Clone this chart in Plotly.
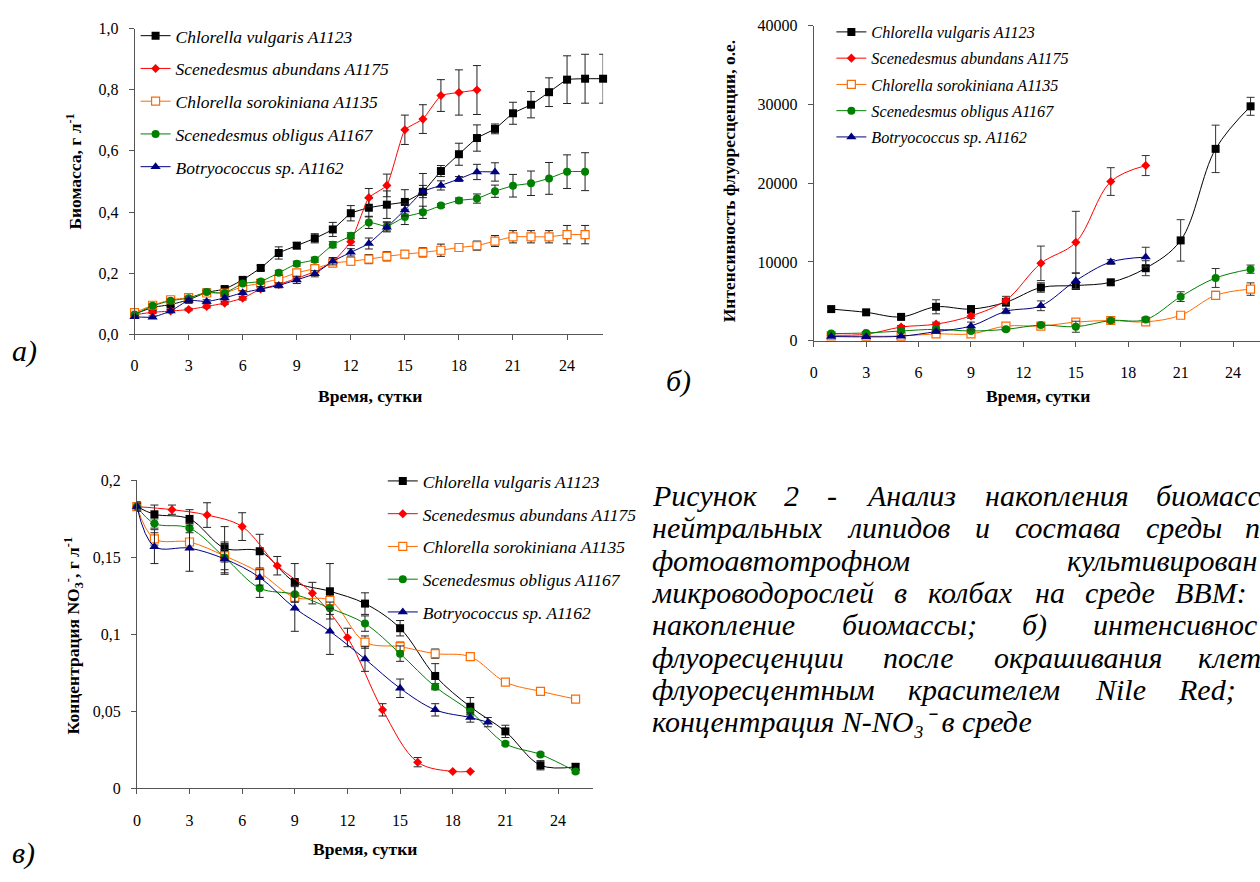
import plotly.graph_objects as go

# ---------------- data ----------------
SERIES = ["Chlorella vulgaris A1123", "Scenedesmus abundans A1175",
          "Chlorella sorokiniana A1135", "Scenedesmus obligus A1167",
          "Botryococcus sp. A1162"]

# (a) biomass, g/L
a_days_cv = list(range(0, 27))
a_cv = [0.066, 0.088, 0.097, 0.113, 0.137, 0.148, 0.178, 0.217, 0.266, 0.290, 0.314, 0.343, 0.396,
        0.414, 0.424, 0.433, 0.466, 0.534, 0.589, 0.642, 0.672, 0.723, 0.751, 0.792, 0.833, 0.836, 0.836]
a_cv_err = [0.005, 0.006, 0.006, 0.006, 0.006, 0.008, 0.008, 0.008, 0.02, 0.01, 0.015, 0.023, 0.025,
            0.03, 0.045, 0.04, 0.06, 0.018, 0.036, 0.043, 0.016, 0.036, 0.043, 0.047, 0.078, 0.08, 0.08]
a_days_sa = list(range(0, 20))
a_sa = [0.064, 0.072, 0.076, 0.081, 0.091, 0.102, 0.118, 0.148, 0.163, 0.183, 0.205, 0.237, 0.303,
        0.447, 0.487, 0.669, 0.704, 0.781, 0.791, 0.799]
a_sa_err = [0.004, 0.004, 0.004, 0.004, 0.005, 0.005, 0.006, 0.006, 0.008, 0.01, 0.01, 0.012, 0.012,
            0.03, 0.037, 0.048, 0.047, 0.052, 0.074, 0.08]
a_days_cs = list(range(0, 26))
a_cs = [0.071, 0.095, 0.113, 0.120, 0.135, 0.135, 0.156, 0.167, 0.181, 0.201, 0.215, 0.233, 0.239,
        0.246, 0.255, 0.262, 0.268, 0.275, 0.284, 0.290, 0.305, 0.319, 0.319, 0.319, 0.326, 0.326]
a_cs_err = [0.004, 0.004, 0.004, 0.004, 0.004, 0.004, 0.004, 0.004, 0.008, 0.01, 0.01, 0.012, 0.012,
            0.015, 0.015, 0.012, 0.015, 0.02, 0.01, 0.015, 0.018, 0.02, 0.02, 0.02, 0.03, 0.03]
a_days_so = list(range(0, 26))
a_so = [0.065, 0.093, 0.110, 0.118, 0.138, 0.135, 0.166, 0.173, 0.201, 0.231, 0.244, 0.293, 0.322,
        0.366, 0.353, 0.384, 0.399, 0.421, 0.438, 0.444, 0.468, 0.486, 0.494, 0.510, 0.532, 0.532]
a_so_err = [0.004, 0.005, 0.005, 0.005, 0.005, 0.006, 0.006, 0.006, 0.008, 0.008, 0.008, 0.01, 0.01,
            0.02, 0.015, 0.025, 0.02, 0.006, 0.008, 0.015, 0.02, 0.037, 0.04, 0.052, 0.055, 0.062]
a_days_bo = list(range(0, 21))
a_bo = [0.057, 0.056, 0.076, 0.111, 0.107, 0.119, 0.136, 0.148, 0.160, 0.178, 0.198, 0.239, 0.268,
        0.297, 0.350, 0.407, 0.467, 0.487, 0.508, 0.531, 0.531]
a_bo_err = [0.004, 0.004, 0.005, 0.006, 0.006, 0.006, 0.006, 0.008, 0.008, 0.012, 0.01, 0.012, 0.012,
            0.018, 0.015, 0.02, 0.02, 0.015, 0.008, 0.025, 0.03]

# (b) fluorescence intensity, a.u.
b_days_long = [1, 3, 5, 7, 9, 11, 13, 15, 17, 19, 21, 23, 25]
b_days_short = [1, 3, 5, 7, 9, 11, 13, 15, 17, 19]
b_cv = [4020, 3610, 3030, 4310, 4020, 4890, 6760, 7010, 7420, 9210, 12740, 24360, 29760]
b_cv_err = [250, 250, 250, 890, 400, 500, 600, 500, 300, 950, 2630, 3010, 1140]
b_sa = [700, 830, 1740, 2110, 3150, 5140, 9830, 12490, 20210, 22240]
b_sa_err = [150, 150, 200, 250, 300, 500, 2190, 3940, 1760, 1270]
b_cs = [620, 580, 600, 870, 870, 1870, 1870, 2370, 2570, 2400, 3240, 5770, 6560]
b_cs_err = [100, 100, 100, 150, 150, 200, 200, 200, 200, 300, 200, 500, 790]
b_so = [910, 990, 1240, 1450, 1240, 1450, 1990, 1780, 2570, 2690, 5600, 7970, 9090]
b_so_err = [100, 150, 150, 200, 200, 200, 200, 700, 200, 300, 620, 1200, 520]
b_bo = [540, 500, 580, 1160, 1870, 3740, 4440, 7630, 10000, 10620]
b_bo_err = [100, 100, 100, 200, 500, 300, 620, 1000, 300, 1250]

# (c) NO3 concentration, g/L
c_days_odd = [0, 1, 3, 5, 7, 9, 11, 13, 15, 17, 19, 21, 23, 25]
c_days_sa = [0, 2, 4, 6, 8, 10, 12, 14, 16, 18, 19]
c_days_bo = [0, 1, 3, 5, 7, 9, 11, 13, 15, 17, 19, 20]
c_cv = [0.183, 0.178, 0.175, 0.156, 0.154, 0.134, 0.128, 0.120, 0.104, 0.073, 0.053, 0.037, 0.015, 0.014]
c_cv_err = [0.003, 0.006, 0.006, 0.014, 0.011, 0.012, 0.018, 0.007, 0.005, 0.008, 0.006, 0.004, 0.003, 0.002]
c_sa = [0.183, 0.181, 0.1775, 0.170, 0.1446, 0.1268, 0.098, 0.051, 0.017, 0.011, 0.011]
c_sa_err = [0.002, 0.003, 0.008, 0.009, 0.006, 0.007, 0.006, 0.004, 0.003, 0.0, 0.0]
c_cs = [0.183, 0.162, 0.160, 0.151, 0.140, 0.124, 0.122, 0.095, 0.092, 0.0875, 0.0855, 0.069, 0.063, 0.058]
c_cs_err = [0.002, 0.004, 0.002, 0.004, 0.003, 0.003, 0.003, 0.004, 0.003, 0.003, 0.002, 0.0, 0.0, 0.0]
c_so = [0.183, 0.172, 0.169, 0.150, 0.130, 0.126, 0.117, 0.107, 0.0875, 0.066, 0.050, 0.029, 0.022, 0.011]
c_so_err = [0.002, 0.003, 0.003, 0.01, 0.006, 0.005, 0.004, 0.005, 0.005, 0.002, 0.002, 0.001, 0.001, 0.001]
c_bo = [0.183, 0.157, 0.156, 0.149, 0.137, 0.117, 0.102, 0.084, 0.065, 0.051, 0.046, 0.043]
c_bo_err = [0.003, 0.011, 0.015, 0.01, 0.005, 0.015, 0.015, 0.008, 0.006, 0.004, 0.003, 0.003]

# tick labels
x_ticks = [0, 3, 6, 9, 12, 15, 18, 21, 24]
x_ticktext = ["0", "3", "6", "9", "12", "15", "18", "21", "24"]
a_yticks = [0, 0.2, 0.4, 0.6, 0.8, 1.0]
a_yticktext = ["0,0", "0,2", "0,4", "0,6", "0,8", "1,0"]
b_yticks = [0, 10000, 20000, 30000, 40000]
b_yticktext = ["0", "10000", "20000", "30000", "40000"]
c_yticks = [0, 0.05, 0.1, 0.15, 0.2]
c_yticktext = ["0", "0,05", "0,1", "0,15", "0,2"]

# caption as visible in the reference (right part of the page is cut off)
caption_lines = [
    ["Рисунок", "2", "-", "Анализ", "накопления", "биомасс"],
    ["нейтральных", "липидов", "и", "состава", "среды", "п"],
    ["фотоавтотрофном", "культивирован"],
    ["микроводорослей", "в", "колбах", "на", "среде", "BBM:"],
    ["накопление", "биомассы;", "б)", "интенсивнос"],
    ["флуоресценции", "после", "окрашивания", "клет"],
    ["флуоресцентным", "красителем", "Nile", "Red;"],
    ["концентрация N-NO₃⁻ в среде"],
]

# ---------------- layout helpers ----------------
W, H = 1260, 882
SERIF = "Liberation Serif, Times New Roman, serif"


def fx(p):
    return p / W


def fy(p):
    return 1 - p / H


STYLES = [
    dict(color="#000000", symbol="square", size=8, fill="#000000", lw=0),
    dict(color="#FF0000", symbol="diamond", size=7, fill="#FF0000", lw=0),
    dict(color="#FF6A00", symbol="square", size=8, fill="#FFFFFF", lw=1.2),
    dict(color="#008000", symbol="circle", size=8, fill="#008000", lw=0),
    dict(color="#000080", symbol="triangle-up", size=9, fill="#000080", lw=0),
]

fig = go.Figure()


def add(x, y, err, idx, xa, ya, leg, smoothing, errcolor):
    st = STYLES[idx]
    fig.add_trace(go.Scatter(
        x=x, y=y, mode="lines+markers", name=SERIES[idx],
        xaxis=xa, yaxis=ya, legend=leg, legendgroup=f"{leg}_{idx}",
        line=dict(color=st["color"], width=1, shape="spline", smoothing=smoothing),
        marker=dict(symbol=st["symbol"], size=st["size"], color=st["fill"],
                    line=dict(color=st["color"], width=st["lw"])),
        error_y=dict(type="data", array=err, visible=True, color=errcolor, thickness=1, width=4),
        cliponaxis=False,
    ))


add(a_days_cv, a_cv, a_cv_err, 0, "x", "y", "legend", 0.4, "#222222")
add(a_days_sa, a_sa, a_sa_err, 1, "x", "y", "legend", 0.4, "#222222")
add(a_days_cs, a_cs, a_cs_err, 2, "x", "y", "legend", 0.4, "#222222")
add(a_days_so, a_so, a_so_err, 3, "x", "y", "legend", 0.4, "#222222")
add(a_days_bo, a_bo, a_bo_err, 4, "x", "y", "legend", 0.4, "#222222")

add(b_days_long, b_cv, b_cv_err, 0, "x2", "y2", "legend2", 1.0, "#333333")
add(b_days_short, b_sa, b_sa_err, 1, "x2", "y2", "legend2", 1.0, "#333333")
add(b_days_long, b_cs, b_cs_err, 2, "x2", "y2", "legend2", 1.0, "#333333")
add(b_days_long, b_so, b_so_err, 3, "x2", "y2", "legend2", 1.0, "#333333")
add(b_days_short, b_bo, b_bo_err, 4, "x2", "y2", "legend2", 1.0, "#333333")

add(c_days_odd, c_cv, c_cv_err, 0, "x3", "y3", "legend3", 1.0, "#222222")
add(c_days_sa, c_sa, c_sa_err, 1, "x3", "y3", "legend3", 1.0, "#222222")
add(c_days_odd, c_cs, c_cs_err, 2, "x3", "y3", "legend3", 1.0, "#222222")
add(c_days_odd, c_so, c_so_err, 3, "x3", "y3", "legend3", 1.0, "#222222")
add(c_days_bo, c_bo, c_bo_err, 4, "x3", "y3", "legend3", 1.0, "#222222")

AX = dict(showline=True, linecolor="#555555", linewidth=1, ticks="outside", ticklen=5,
          tickcolor="#555555", showgrid=False, zeroline=False,
          tickfont=dict(family=SERIF, size=16, color="black"))
XAX = dict(AX, tickvals=x_ticks, ticktext=x_ticktext, ticklabelstandoff=12)
YAX = dict(AX, ticklabelstandoff=7)

LEG = dict(bgcolor="rgba(0,0,0,0)", borderwidth=0, xanchor="left", yanchor="top",
           traceorder="grouped", itemwidth=30)

fig.update_layout(
    width=W, height=H, margin=dict(l=0, r=0, t=0, b=0),
    paper_bgcolor="white", plot_bgcolor="white",
    font=dict(family=SERIF, color="black"),
    xaxis=dict(XAX, domain=[fx(131), fx(601)], anchor="y", range=[0, 26]),
    yaxis=dict(YAX, domain=[fy(332.7), fy(21)], anchor="x", range=[0, 1],
               tickvals=a_yticks, ticktext=a_yticktext),
    xaxis2=dict(XAX, domain=[fx(812.3), 1], anchor="y2", range=[0, 25.54]),
    yaxis2=dict(YAX, domain=[fy(339.3), fy(18)], anchor="x2", range=[0, 40000],
                tickvals=b_yticks, ticktext=b_yticktext),
    xaxis3=dict(XAX, domain=[fx(133.3), fx(591)], anchor="y3", range=[0, 26]),
    yaxis3=dict(YAX, domain=[fy(795.7), fy(481.7)], anchor="x3", range=[0, 0.2],
                tickvals=c_yticks, ticktext=c_yticktext),
    legend=dict(LEG, x=fx(132), y=fy(10), tracegroupgap=7,
                font=dict(family=SERIF, size=17.5, style="italic", color="black")),
    legend2=dict(LEG, x=fx(830), y=fy(7), tracegroupgap=2.2,
                 font=dict(family=SERIF, size=16.2, style="italic", color="black")),
    legend3=dict(LEG, x=fx(380), y=fy(464), tracegroupgap=7,
                 font=dict(family=SERIF, size=17.5, style="italic", color="black")),
    showlegend=True,
)

ann = []


def text(x, y, s, size, angle=0, anchor="center"):
    ann.append(dict(x=fx(x), y=fy(y), xref="paper", yref="paper", text=s, showarrow=False,
                    font=dict(family=SERIF, size=size, color="black"), textangle=angle,
                    xanchor=anchor, yanchor="middle"))


# axis titles
text(367, 396, "<b>Время, сутки</b>", 17.5)
text(1037, 396, "<b>Время, сутки</b>", 17.5)
text(362, 858, "<b>Время, сутки</b>", 17.5)
text(70, 167, "<b>Биомасса, г л<sup>-1</sup></b>", 17.5, -90)
text(727, 176, "<b>Интенсивность флуоресценции, о.е.</b>", 17.5, -90)
text(70, 640, "<b>Концентрация NO<sub>3</sub><sup>-</sup>, г л<sup>-1</sup></b>", 17.5, -90)

# panel labels
text(6, 350, "<i>а)</i>", 30, anchor="left")
text(662, 380, "<i>б)</i>", 30, anchor="left")
text(6, 862, "<i>в)</i>", 30, anchor="left")

# caption (justified paragraph, word start positions in px)
cap_x = [
    [648, 780, 824, 863, 982, 1154],
    [648, 844, 972, 1012, 1144, 1243],
    [648, 1064],
    [648, 891, 925, 1032, 1082, 1173],
    [648, 839, 1019, 1090],
    [648, 880, 991, 1196],
    [648, 905, 1092, 1176],
    [648],
]
cap_y0, cap_dy = 497, 33
for i, (words, xs) in enumerate(zip(caption_lines, cap_x)):
    for w, x in zip(words, xs):
        text(x, cap_y0 + i * cap_dy, f"<i>{w}</i>", 30, anchor="left")

fig.update_layout(annotations=ann)
fig.write_html("out.html", config={"displayModeBar": False},
               post_script="document.body.style.margin='0px';")
